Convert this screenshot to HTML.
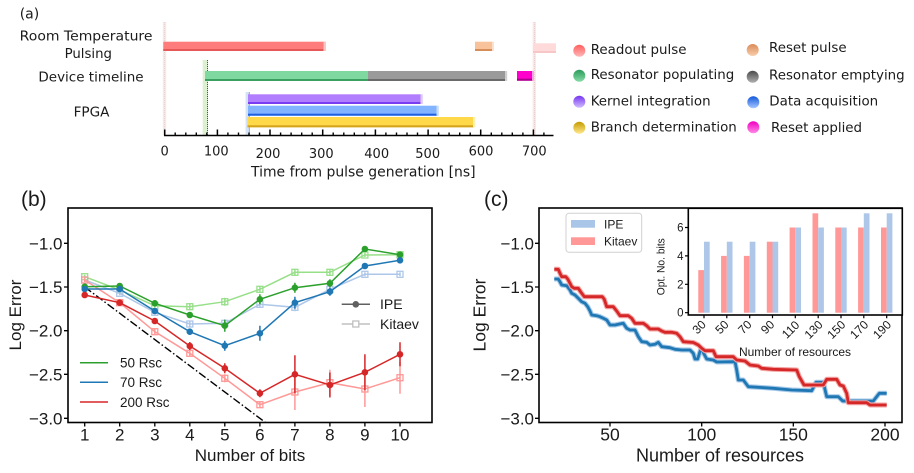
<!DOCTYPE html>
<html><head><meta charset="utf-8"><style>
html,body{margin:0;padding:0;background:#fff;}
svg{display:block;}
.a{font-family:"DejaVu Sans","Liberation Sans",sans-serif;fill:#1a1a1a;}
.b{font-family:"Liberation Sans","DejaVu Sans",sans-serif;fill:#1a1a1a;}
</style></head><body>
<svg width="914" height="473" viewBox="0 0 914 473" xmlns="http://www.w3.org/2000/svg">
<defs>
<linearGradient id="g1" x1="0" y1="0" x2="0" y2="1"><stop offset="0" stop-color="#ff5e5e"/><stop offset="1" stop-color="#ffb8b8"/></linearGradient>
<linearGradient id="g2" x1="0" y1="0" x2="0" y2="1"><stop offset="0" stop-color="#db8a55"/><stop offset="1" stop-color="#f8cfae"/></linearGradient>
<linearGradient id="g3" x1="0" y1="0" x2="0" y2="1"><stop offset="0" stop-color="#2a9a5a"/><stop offset="1" stop-color="#86dba6"/></linearGradient>
<linearGradient id="g4" x1="0" y1="0" x2="0" y2="1"><stop offset="0" stop-color="#4a4a4a"/><stop offset="1" stop-color="#b0b0b0"/></linearGradient>
<linearGradient id="g5" x1="0" y1="0" x2="0" y2="1"><stop offset="0" stop-color="#7435f0"/><stop offset="1" stop-color="#d2bcff"/></linearGradient>
<linearGradient id="g6" x1="0" y1="0" x2="0" y2="1"><stop offset="0" stop-color="#1458dc"/><stop offset="1" stop-color="#a6c8ff"/></linearGradient>
<linearGradient id="g7" x1="0" y1="0" x2="0" y2="1"><stop offset="0" stop-color="#c49a00"/><stop offset="1" stop-color="#ffe88a"/></linearGradient>
<linearGradient id="g8" x1="0" y1="0" x2="0" y2="1"><stop offset="0" stop-color="#f000c0"/><stop offset="1" stop-color="#ff8ae8"/></linearGradient>
<clipPath id="cb"><rect x="68" y="208" width="364" height="214.5"/></clipPath>
<clipPath id="cc"><rect x="539" y="208" width="363" height="214.5"/></clipPath>
</defs>
<rect width="914" height="473" fill="#fff"/>

<!-- ============ PANEL (a) ============ -->
<text class="a" x="19.7" y="18.5" font-size="14">(a)</text>
<text class="a" x="19.7" y="40.5" font-size="13.4" textLength="132.8" lengthAdjust="spacingAndGlyphs">Room Temperature</text>
<text class="a" x="64.6" y="58" font-size="13.4" textLength="47.4" lengthAdjust="spacingAndGlyphs">Pulsing</text>
<text class="a" x="38.4" y="81.3" font-size="13.4" textLength="105.2" lengthAdjust="spacingAndGlyphs">Device timeline</text>
<text class="a" x="73.6" y="116.4" font-size="13.4" textLength="35.9" lengthAdjust="spacingAndGlyphs">FPGA</text>

<!-- guide lines -->
<rect x="162.8" y="22" width="3.4" height="113.5" fill="#fde6e6"/>
<line x1="164.5" y1="22" x2="164.5" y2="135" stroke="#c8c8c8" stroke-width="0.6" stroke-dasharray="1,1"/>
<rect x="532.6" y="22" width="3.4" height="113.5" fill="#fde6e6"/>
<line x1="534.3" y1="22" x2="534.3" y2="135" stroke="#d0c0c0" stroke-width="0.6" stroke-dasharray="1,1"/>
<rect x="202.7" y="60" width="4.2" height="75.5" fill="#daf0cf"/>
<line x1="207.5" y1="60" x2="207.5" y2="135" stroke="#555" stroke-width="1" stroke-dasharray="1.2,0.8"/>
<rect x="245.6" y="92" width="3.8" height="43.5" fill="#d3e2f6"/>
<line x1="249.3" y1="92" x2="249.3" y2="135" stroke="#8a94a8" stroke-width="0.8"/>

<!-- bars -->
<g>
<rect x="163.3" y="41.7" width="161.7" height="9.3" fill="#ff7c7c"/><rect x="163.3" y="49" width="161.7" height="2" fill="#e45858"/><rect x="323.5" y="41.7" width="2.5" height="9.3" fill="#ffc4c4"/>
<rect x="475" y="41.7" width="18" height="9.3" fill="#f8c39b"/><rect x="475" y="49" width="18" height="2" fill="#d68d58"/><rect x="492" y="41.7" width="2" height="9.3" fill="#fde0cc"/>
<rect x="533" y="43.3" width="23" height="9.7" fill="#ffdada"/><rect x="533" y="51" width="23" height="2" fill="#f7c6c6"/>
<rect x="205" y="71" width="163" height="10" fill="#80d8a1"/><rect x="205" y="79" width="163" height="2" fill="#3b9f60"/>
<rect x="368" y="71" width="138" height="10" fill="#9a9a9a"/><rect x="368" y="79" width="138" height="2" fill="#6a6a6a"/><rect x="505" y="71" width="2.2" height="10" fill="#cfcfcf"/>
<rect x="517" y="71" width="16" height="9.7" fill="#ff00cc"/><rect x="517" y="78.7" width="16" height="2" fill="#a8008a"/><rect x="532" y="71" width="2" height="9.7" fill="#ff9ee8"/>
<rect x="248" y="94.3" width="173.5" height="9.7" fill="#b07eff"/><rect x="248" y="102" width="173.5" height="2" fill="#7a3cf0"/><rect x="420.5" y="94.3" width="2.3" height="9.7" fill="#dccbff"/>
<rect x="248" y="105.7" width="189.5" height="10" fill="#82b3ff"/><rect x="248" y="113.7" width="189.5" height="2" fill="#1c5fe0"/><rect x="436.5" y="105.7" width="2.3" height="10" fill="#c8dcff"/>
<rect x="247.5" y="117" width="226.5" height="10.3" fill="#ffd94a"/><rect x="247.5" y="125.3" width="226.5" height="2" fill="#d3a31c"/><rect x="473" y="117" width="2.3" height="10.3" fill="#fff0b0"/>
</g>

<!-- time axis -->
<line x1="164" y1="135.5" x2="553.5" y2="135.5" stroke="#000" stroke-width="1.6"/>
<g stroke="#000" stroke-width="1.5">
<line x1="164.7" y1="135.5" x2="164.7" y2="129.5"/><line x1="217.4" y1="135.5" x2="217.4" y2="129.5"/><line x1="270.0" y1="135.5" x2="270.0" y2="129.5"/><line x1="322.7" y1="135.5" x2="322.7" y2="129.5"/><line x1="375.4" y1="135.5" x2="375.4" y2="129.5"/><line x1="428.1" y1="135.5" x2="428.1" y2="129.5"/><line x1="480.7" y1="135.5" x2="480.7" y2="129.5"/><line x1="533.4" y1="135.5" x2="533.4" y2="129.5"/>
</g>
<g stroke="#000" stroke-width="1.4">
<line x1="175.2" y1="135.5" x2="175.2" y2="132.5"/><line x1="185.8" y1="135.5" x2="185.8" y2="132.5"/><line x1="196.3" y1="135.5" x2="196.3" y2="132.5"/><line x1="206.8" y1="135.5" x2="206.8" y2="132.5"/>
<line x1="227.9" y1="135.5" x2="227.9" y2="132.5"/><line x1="238.5" y1="135.5" x2="238.5" y2="132.5"/><line x1="249.0" y1="135.5" x2="249.0" y2="132.5"/><line x1="259.5" y1="135.5" x2="259.5" y2="132.5"/>
<line x1="280.6" y1="135.5" x2="280.6" y2="132.5"/><line x1="291.1" y1="135.5" x2="291.1" y2="132.5"/><line x1="301.7" y1="135.5" x2="301.7" y2="132.5"/><line x1="312.2" y1="135.5" x2="312.2" y2="132.5"/>
<line x1="333.2" y1="135.5" x2="333.2" y2="132.5"/><line x1="343.8" y1="135.5" x2="343.8" y2="132.5"/><line x1="354.3" y1="135.5" x2="354.3" y2="132.5"/><line x1="364.9" y1="135.5" x2="364.9" y2="132.5"/>
<line x1="385.9" y1="135.5" x2="385.9" y2="132.5"/><line x1="396.5" y1="135.5" x2="396.5" y2="132.5"/><line x1="407.0" y1="135.5" x2="407.0" y2="132.5"/><line x1="417.5" y1="135.5" x2="417.5" y2="132.5"/>
<line x1="438.6" y1="135.5" x2="438.6" y2="132.5"/><line x1="449.1" y1="135.5" x2="449.1" y2="132.5"/><line x1="459.7" y1="135.5" x2="459.7" y2="132.5"/><line x1="470.2" y1="135.5" x2="470.2" y2="132.5"/>
<line x1="491.3" y1="135.5" x2="491.3" y2="132.5"/><line x1="501.8" y1="135.5" x2="501.8" y2="132.5"/><line x1="512.3" y1="135.5" x2="512.3" y2="132.5"/><line x1="522.9" y1="135.5" x2="522.9" y2="132.5"/>
<line x1="543.9" y1="135.5" x2="543.9" y2="132.5"/>
</g>
<g class="a" font-size="13" text-anchor="middle">
<text x="164.7" y="155.6">0</text><text x="216.3" y="155.6">100</text><text x="268" y="158">200</text><text x="321.3" y="158">300</text><text x="376.7" y="158">400</text><text x="427.7" y="158">500</text><text x="481" y="155.4">600</text><text x="534.3" y="155.4">700</text>
</g>
<text class="a" x="251" y="176.6" font-size="14" textLength="224.6" lengthAdjust="spacingAndGlyphs">Time from pulse generation [ns]</text>

<!-- legend (a) -->
<circle cx="579.3" cy="50.7" r="6" fill="url(#g1)"/>
<circle cx="579.3" cy="75.7" r="6" fill="url(#g3)"/>
<circle cx="579.3" cy="101.7" r="6" fill="url(#g5)"/>
<circle cx="579.3" cy="127.7" r="6" fill="url(#g7)"/>
<circle cx="752.7" cy="50" r="6" fill="url(#g2)"/>
<circle cx="752.7" cy="76.7" r="6" fill="url(#g4)"/>
<circle cx="753.3" cy="102.3" r="6" fill="url(#g6)"/>
<circle cx="753.3" cy="127.3" r="6" fill="url(#g8)"/>
<g class="a" font-size="13.4">
<text x="590.7" y="54">Readout pulse</text>
<text x="590.7" y="79">Resonator populating</text>
<text x="590.7" y="105.4">Kernel integration</text>
<text x="590.7" y="131.4">Branch determination</text>
<text x="769" y="52">Reset pulse</text>
<text x="769" y="79.7">Resonator emptying</text>
<text x="769.3" y="105.4">Data acquisition</text>
<text x="771" y="132">Reset applied</text>
</g>

<!-- ============ PANEL (b) ============ -->
<text class="b" x="21" y="206" font-size="21">(b)</text>
<g clip-path="url(#cb)">
<line x1="84.7" y1="287" x2="270" y2="425.9" stroke="#000" stroke-width="1.4" stroke-dasharray="8,2.4,1.5,2.4"/>
<!-- Kitaev -->
<g fill="none" stroke-width="1.5">
<g stroke="#98df8a">
<polyline points="84.7,276.7 119.7,290 154.8,305.7 189.8,306.7 224.8,301.7 259.9,289.3 294.9,272.3 329.9,272.3 364.9,255 400,254.7"/>
<path d="M84.7,274.7V278.7M119.7,288V292M154.8,303.7V307.7M189.8,303.7V309.7M224.8,297.7V305.7M259.9,286.3V292.3M294.9,269.3V275.3M329.9,269.3V275.3M364.9,253V257M400,252.7V256.7"/>
<g stroke-width="1.3"><rect x="81.7" y="273.7" width="6" height="6"/><rect x="116.7" y="287" width="6" height="6"/><rect x="151.8" y="302.7" width="6" height="6"/><rect x="186.8" y="303.7" width="6" height="6"/><rect x="221.8" y="298.7" width="6" height="6"/><rect x="256.9" y="286.3" width="6" height="6"/><rect x="291.9" y="269.3" width="6" height="6"/><rect x="326.9" y="269.3" width="6" height="6"/><rect x="361.9" y="252" width="6" height="6"/><rect x="397" y="251.7" width="6" height="6"/></g>
</g>
<g stroke="#aec7e8">
<polyline points="84.7,280 119.7,293.3 154.8,312.3 189.8,324 224.8,323.3 259.9,304.3 294.9,307.3 329.9,289.3 364.9,274.3 400,274.3"/>
<path d="M84.7,278V282M119.7,291.3V295.3M154.8,310.3V314.3M189.8,321V327M224.8,319.3V327.3M259.9,301.3V307.3M294.9,303.3V311.3M329.9,286.3V292.3M364.9,272.3V276.3M400,272.3V276.3"/>
<g stroke-width="1.3"><rect x="81.7" y="277" width="6" height="6"/><rect x="116.7" y="290.3" width="6" height="6"/><rect x="151.8" y="309.3" width="6" height="6"/><rect x="186.8" y="321" width="6" height="6"/><rect x="221.8" y="320.3" width="6" height="6"/><rect x="256.9" y="301.3" width="6" height="6"/><rect x="291.9" y="304.3" width="6" height="6"/><rect x="326.9" y="286.3" width="6" height="6"/><rect x="361.9" y="271.3" width="6" height="6"/><rect x="397" y="271.3" width="6" height="6"/></g>
</g>
<g stroke="#ff9896">
<polyline points="84.7,280 119.7,302.7 154.8,331.7 189.8,353.3 224.8,378.3 259.9,404.7 294.9,392 329.9,382.7 364.9,389 400,377.7"/>
<path d="M84.7,278V282M119.7,300.7V304.7M154.8,328.7V334.7M189.8,350.3V356.3M224.8,374.3V382.3M259.9,401.7V407.7M294.9,374V410M329.9,369.7V395.7M364.9,371V407M400,361.7V393.7"/>
<g stroke-width="1.3"><rect x="81.7" y="277" width="6" height="6"/><rect x="116.7" y="299.7" width="6" height="6"/><rect x="151.8" y="328.7" width="6" height="6"/><rect x="186.8" y="350.3" width="6" height="6"/><rect x="221.8" y="375.3" width="6" height="6"/><rect x="256.9" y="401.7" width="6" height="6"/><rect x="291.9" y="389" width="6" height="6"/><rect x="326.9" y="379.7" width="6" height="6"/><rect x="361.9" y="386" width="6" height="6"/><rect x="397" y="374.7" width="6" height="6"/></g>
</g>
</g>
<!-- IPE -->
<g stroke-width="1.5">
<g stroke="#2ca02c" fill="#2ca02c">
<polyline fill="none" points="84.7,286.7 119.7,286 154.8,303.3 189.8,315 224.8,325.7 259.9,299.3 294.9,287.7 329.9,283.3 364.9,249 400,254.7"/>
<path d="M84.7,284.7V288.7M119.7,284V288M154.8,300.3V306.3M189.8,312V318M224.8,319.7V331.7M259.9,294.3V304.3M294.9,282.7V292.7M329.9,279.3V287.3M364.9,246V252M400,252.7V256.7"/>
<circle cx="84.7" cy="286.7" r="3.3" stroke="none"/><circle cx="119.7" cy="286" r="3.3" stroke="none"/><circle cx="154.8" cy="303.3" r="3.3" stroke="none"/><circle cx="189.8" cy="315" r="3.3" stroke="none"/><circle cx="224.8" cy="325.7" r="3.3" stroke="none"/><circle cx="259.9" cy="299.3" r="3.3" stroke="none"/><circle cx="294.9" cy="287.7" r="3.3" stroke="none"/><circle cx="329.9" cy="283.3" r="3.3" stroke="none"/><circle cx="364.9" cy="249" r="3.3" stroke="none"/><circle cx="400" cy="254.7" r="3.3" stroke="none"/>
</g>
<g stroke="#1f77b4" fill="#1f77b4">
<polyline fill="none" points="84.7,289 119.7,289 154.8,311 189.8,331.7 224.8,345.7 259.9,333.3 294.9,302.7 329.9,291.7 364.9,266 400,260.3"/>
<path d="M84.7,287V291M119.7,287V291M154.8,309V313M189.8,328.7V334.7M224.8,340.7V350.7M259.9,325.8V340.8M294.9,296.7V308.7M329.9,287.7V295.7M364.9,263V269M400,257.3V263.3"/>
<circle cx="84.7" cy="289" r="3.3" stroke="none"/><circle cx="119.7" cy="289" r="3.3" stroke="none"/><circle cx="154.8" cy="311" r="3.3" stroke="none"/><circle cx="189.8" cy="331.7" r="3.3" stroke="none"/><circle cx="224.8" cy="345.7" r="3.3" stroke="none"/><circle cx="259.9" cy="333.3" r="3.3" stroke="none"/><circle cx="294.9" cy="302.7" r="3.3" stroke="none"/><circle cx="329.9" cy="291.7" r="3.3" stroke="none"/><circle cx="364.9" cy="266" r="3.3" stroke="none"/><circle cx="400" cy="260.3" r="3.3" stroke="none"/>
</g>
<g stroke="#d62728" fill="#d62728">
<polyline fill="none" points="84.7,295 119.7,302.7 154.8,321 189.8,346 224.8,368.3 259.9,393.3 294.9,374.3 329.9,385 364.9,372.3 400,354.3"/>
<path d="M84.7,293V297M119.7,300.7V304.7M154.8,318V324M189.8,342V350M224.8,363.3V373.3M259.9,389.3V397.3M294.9,355.3V393.3M329.9,372.5V397.5M364.9,354.3V390.3M400,342.3V366.3"/>
<circle cx="84.7" cy="295" r="3.3" stroke="none"/><circle cx="119.7" cy="302.7" r="3.3" stroke="none"/><circle cx="154.8" cy="321" r="3.3" stroke="none"/><circle cx="189.8" cy="346" r="3.3" stroke="none"/><circle cx="224.8" cy="368.3" r="3.3" stroke="none"/><circle cx="259.9" cy="393.3" r="3.3" stroke="none"/><circle cx="294.9" cy="374.3" r="3.3" stroke="none"/><circle cx="329.9" cy="385" r="3.3" stroke="none"/><circle cx="364.9" cy="372.3" r="3.3" stroke="none"/><circle cx="400" cy="354.3" r="3.3" stroke="none"/>
</g>
</g>
</g>
<rect x="68" y="208" width="364" height="214.5" fill="none" stroke="#000" stroke-width="1.6"/>
<!-- ticks b -->
<g stroke="#000" stroke-width="1.3">
<path d="M64,243.3H68M64,287H68M64,330.7H68M64,374.3H68M64,418.3H68"/>
<path d="M84.7,422.5V426.5M119.7,422.5V426.5M154.8,422.5V426.5M189.8,422.5V426.5M224.8,422.5V426.5M259.9,422.5V426.5M294.9,422.5V426.5M329.9,422.5V426.5M364.9,422.5V426.5M400,422.5V426.5"/>
</g>
<g class="b" font-size="17" text-anchor="end">
<text x="62.5" y="249.3">−1.0</text><text x="62.5" y="293">−1.5</text><text x="62.5" y="336.7">−2.0</text><text x="62.5" y="380.3">−2.5</text><text x="62.5" y="424.3">−3.0</text>
</g>
<g class="b" font-size="17" text-anchor="middle">
<text x="84.7" y="440.5">1</text><text x="119.7" y="440.5">2</text><text x="154.8" y="440.5">3</text><text x="189.8" y="440.5">4</text><text x="224.8" y="440.5">5</text><text x="259.9" y="440.5">6</text><text x="294.9" y="440.5">7</text><text x="329.9" y="440.5">8</text><text x="364.9" y="440.5">9</text><text x="400" y="440.5">10</text>
</g>
<text class="b" x="250" y="461" font-size="17" text-anchor="middle">Number of bits</text>
<text class="b" transform="translate(21,315) rotate(-90)" font-size="17" text-anchor="middle">Log Error</text>
<!-- legend b -->
<g stroke-width="1.5">
<line x1="80" y1="362.7" x2="108" y2="362.7" stroke="#2ca02c"/>
<line x1="80" y1="382.3" x2="108" y2="382.3" stroke="#1f77b4"/>
<line x1="80" y1="402" x2="108" y2="402" stroke="#d62728"/>
</g>
<g class="b" font-size="13.5">
<text x="120" y="367.5">50 Rsc</text><text x="120" y="387.1">70 Rsc</text><text x="120" y="406.8">200 Rsc</text>
</g>
<line x1="341.7" y1="304.3" x2="370" y2="304.3" stroke="#606060" stroke-width="1.5"/>
<circle cx="355.8" cy="304.3" r="3.3" fill="#606060"/>
<line x1="341.7" y1="324" x2="370" y2="324" stroke="#c0c0c0" stroke-width="1.5"/>
<rect x="352.8" y="321" width="6" height="6" fill="#fff" stroke="#c0c0c0" stroke-width="1.3"/>
<g class="b" font-size="14">
<text x="380" y="309.2">IPE</text><text x="380" y="329">Kitaev</text>
</g>

<!-- ============ PANEL (c) ============ -->
<text class="b" x="484" y="206" font-size="21">(c)</text>
<g clip-path="url(#cc)" fill="none" stroke-linejoin="round" stroke-linecap="butt">
<polyline stroke="#a6c9e8" stroke-width="5" points="554.3,279 558.3,279 560,281.7 561.7,285 566.7,285.7 570,290 571.7,293.3 575,295 578.3,298.3 581.7,301.7 585,303.3 587.7,306.7 590,311 591.7,315 596.7,315.7 600,316.7 603.3,318.3 606.7,320 610,325 615,325 618.3,324.3 623.3,323.3 626.7,328.3 630,330 635,330 638.3,336.7 641.7,341.7 646.7,342.3 650,345 655,344.3 658.3,342.3 661.7,346.7 670,347.7 675,349.3 681.7,350 690,350 693.3,353.3 695,359 697.7,359 700.5,350 702,349 703.5,353 706.7,359 713.3,360 716.7,362 735,361.7 736.7,370 738.3,380 743.3,380 748.3,386.7 758.3,387.3 773.3,388.3 791.7,390 811.7,390.7 816,382.3 823.3,382.3 826.7,396.7 838.3,396.7 842.7,401 873.3,401 879.3,393.3 886.7,393.3"/>
<polyline stroke="#1f77b4" stroke-width="2.8" points="554.3,279 558.3,279 560,281.7 561.7,285 566.7,285.7 570,290 571.7,293.3 575,295 578.3,298.3 581.7,301.7 585,303.3 587.7,306.7 590,311 591.7,315 596.7,315.7 600,316.7 603.3,318.3 606.7,320 610,325 615,325 618.3,324.3 623.3,323.3 626.7,328.3 630,330 635,330 638.3,336.7 641.7,341.7 646.7,342.3 650,345 655,344.3 658.3,342.3 661.7,346.7 670,347.7 675,349.3 681.7,350 690,350 693.3,353.3 695,359 697.7,359 700.5,350 702,349 703.5,353 706.7,359 713.3,360 716.7,362 735,361.7 736.7,370 738.3,380 743.3,380 748.3,386.7 758.3,387.3 773.3,388.3 791.7,390 811.7,390.7 816,382.3 823.3,382.3 826.7,396.7 838.3,396.7 842.7,401 873.3,401 879.3,393.3 886.7,393.3"/>
<polyline stroke="#f4a3a3" stroke-width="5" points="554.3,269.3 558.3,269.3 560,273.3 561.7,276.7 565.7,276.7 567.7,279 570,283.3 571.7,286.7 574.3,288.3 578.3,288.3 581,292.3 584.3,296.7 602.3,296.7 604.3,299.3 606.7,306.7 613.3,306.7 616.7,311 620,315.7 628.3,315.7 631.7,318.3 635,323.3 643.3,323.3 646.7,325.7 650,329 658.3,329 661.7,331 665,332.3 671.7,332.3 676.7,333.3 680,336.7 683.3,341.7 693.3,342.5 698.3,345 701.7,348.3 705,350.7 713.3,350.7 716,356.7 733.3,356.7 736.7,360 745,361 750,365 758.3,366 761.7,368.3 773.3,369.3 796.7,370 799.3,376.7 804,385 823.3,385 826.7,379.3 836.7,379.3 840,385 843.3,386 846.7,393.3 848.3,402.7 866.7,402.7 870,405 886.7,405"/>
<polyline stroke="#d62728" stroke-width="2.8" points="554.3,269.3 558.3,269.3 560,273.3 561.7,276.7 565.7,276.7 567.7,279 570,283.3 571.7,286.7 574.3,288.3 578.3,288.3 581,292.3 584.3,296.7 602.3,296.7 604.3,299.3 606.7,306.7 613.3,306.7 616.7,311 620,315.7 628.3,315.7 631.7,318.3 635,323.3 643.3,323.3 646.7,325.7 650,329 658.3,329 661.7,331 665,332.3 671.7,332.3 676.7,333.3 680,336.7 683.3,341.7 693.3,342.5 698.3,345 701.7,348.3 705,350.7 713.3,350.7 716,356.7 733.3,356.7 736.7,360 745,361 750,365 758.3,366 761.7,368.3 773.3,369.3 796.7,370 799.3,376.7 804,385 823.3,385 826.7,379.3 836.7,379.3 840,385 843.3,386 846.7,393.3 848.3,402.7 866.7,402.7 870,405 886.7,405"/>
</g>
<rect x="539" y="208" width="363" height="214.5" fill="none" stroke="#000" stroke-width="1.6"/>
<g stroke="#000" stroke-width="1.3">
<path d="M535,243.3H539M535,287H539M535,330.7H539M535,374.3H539M535,418.3H539"/>
<path d="M610,422.5V426.5M701.7,422.5V426.5M793.3,422.5V426.5M885,422.5V426.5"/>
</g>
<g class="b" font-size="17" text-anchor="end">
<text x="534" y="249.3">−1.0</text><text x="534" y="293">−1.5</text><text x="534" y="336.7">−2.0</text><text x="534" y="380.3">−2.5</text><text x="534" y="424.3">−3.0</text>
</g>
<g class="b" font-size="17.5" text-anchor="middle">
<text x="610" y="440.5">50</text><text x="701.7" y="440.5">100</text><text x="793.3" y="440.5">150</text><text x="885" y="440.5">200</text>
</g>
<text class="b" x="720" y="461.3" font-size="18" text-anchor="middle">Number of resources</text>
<text class="b" transform="translate(485.5,315) rotate(-90)" font-size="17.5" text-anchor="middle">Log Error</text>
<!-- legend c -->
<rect x="566" y="213.3" width="75.7" height="39" rx="3" fill="#fff" stroke="#d0d0d0" stroke-width="1"/>
<rect x="571" y="220" width="24" height="7.7" fill="#a9c6e8"/>
<rect x="571" y="237.3" width="24" height="7.7" fill="#ff9896"/>
<g class="b" font-size="12">
<text x="604" y="228.4">IPE</text><text x="604" y="245.5">Kitaev</text>
</g>

<!-- inset -->
<rect x="688.3" y="208.3" width="214" height="106.7" fill="#fff"/>
<g>
<rect x="698.3" y="270.1" width="5.7" height="42.6" fill="#ff9896"/><rect x="704" y="241.7" width="5.7" height="71" fill="#aec7e8"/>
<rect x="721.1" y="255.9" width="5.7" height="56.8" fill="#ff9896"/><rect x="726.8" y="241.7" width="5.7" height="71" fill="#aec7e8"/>
<rect x="743.9" y="255.9" width="5.7" height="56.8" fill="#ff9896"/><rect x="749.7" y="241.7" width="5.7" height="71" fill="#aec7e8"/>
<rect x="766.8" y="241.7" width="5.7" height="71" fill="#ff9896"/><rect x="772.5" y="241.7" width="5.7" height="71" fill="#aec7e8"/>
<rect x="789.6" y="227.5" width="5.7" height="85.2" fill="#ff9896"/><rect x="795.3" y="227.5" width="5.7" height="85.2" fill="#aec7e8"/>
<rect x="812.5" y="213.3" width="5.7" height="99.4" fill="#ff9896"/><rect x="818.2" y="227.5" width="5.7" height="85.2" fill="#aec7e8"/>
<rect x="835.3" y="227.5" width="5.7" height="85.2" fill="#ff9896"/><rect x="841" y="227.5" width="5.7" height="85.2" fill="#aec7e8"/>
<rect x="858.1" y="227.5" width="5.7" height="85.2" fill="#ff9896"/><rect x="863.8" y="213.3" width="5.7" height="99.4" fill="#aec7e8"/>
<rect x="881" y="227.5" width="5.7" height="85.2" fill="#ff9896"/><rect x="886.7" y="213.3" width="5.7" height="99.4" fill="#aec7e8"/>
</g>
<rect x="688.3" y="208.3" width="214" height="106.7" fill="none" stroke="#000" stroke-width="1.6"/>
<g stroke="#000" stroke-width="1.2">
<path d="M685,312.7H688.3M685,284.3H688.3M685,255.9H688.3M685,227.5H688.3"/>
<path d="M704,315V318.3M726.8,315V318.3M749.7,315V318.3M772.5,315V318.3M795.3,315V318.3M818.2,315V318.3M841,315V318.3M863.8,315V318.3M886.7,315V318.3"/>
</g>
<g class="b" font-size="11.5" text-anchor="end">
<text x="683.5" y="316.7">0</text><text x="683.5" y="288.3">2</text><text x="683.5" y="259.9">4</text><text x="683.5" y="231.5">6</text>
</g>
<text class="b" transform="translate(664.5,266.7) rotate(-90)" font-size="11" text-anchor="middle" textLength="57" lengthAdjust="spacingAndGlyphs">Opt. No. bits</text>
<g class="b" font-size="12" text-anchor="middle">
<text transform="translate(702,330) rotate(-45)">30</text>
<text transform="translate(724.8,330) rotate(-45)">50</text>
<text transform="translate(747.7,330) rotate(-45)">70</text>
<text transform="translate(770.5,330) rotate(-45)">90</text>
<text transform="translate(793.5,332.5) rotate(-45)">110</text>
<text transform="translate(816.4,332.5) rotate(-45)">130</text>
<text transform="translate(839.2,332.5) rotate(-45)">150</text>
<text transform="translate(862,332.5) rotate(-45)">170</text>
<text transform="translate(884.9,332.5) rotate(-45)">190</text>
</g>
<text class="b" x="795" y="356" font-size="12" text-anchor="middle">Number of resources</text>
</svg>
</body></html>
